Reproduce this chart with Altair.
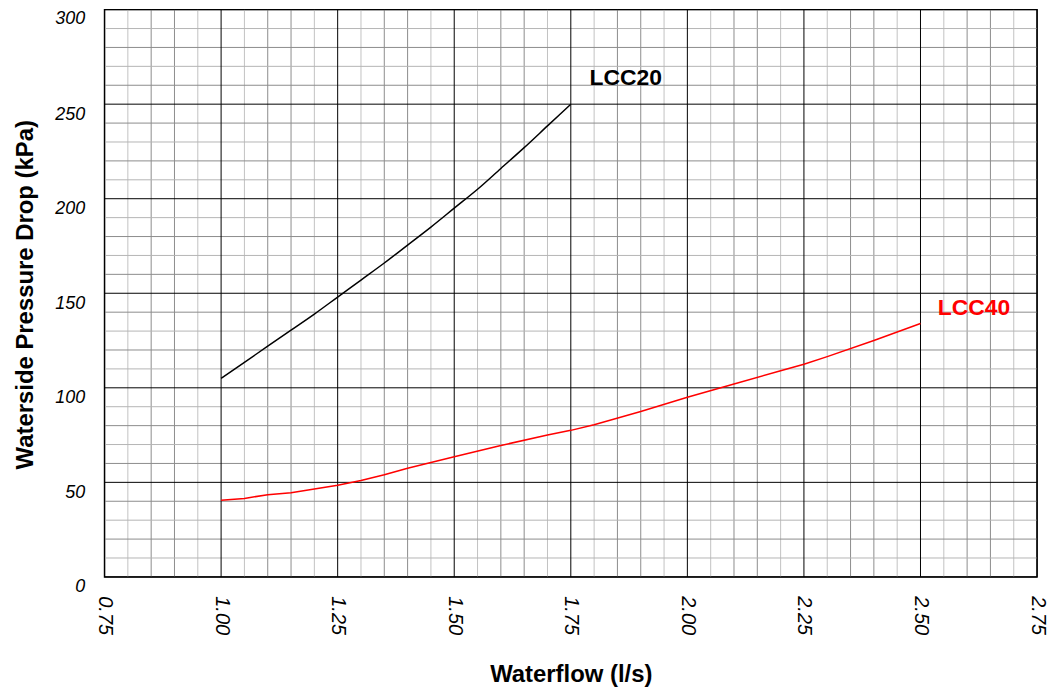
import altair as alt
import pandas as pd

# ---- data ----
flow_lcc20 = [1.00, 1.05, 1.10, 1.15, 1.20, 1.25, 1.30, 1.35, 1.40, 1.45, 1.50, 1.55, 1.60, 1.65, 1.70, 1.75]
dp_lcc20 = [105, 113.5, 122, 130.5, 139, 148, 157, 166, 175.5, 185, 195, 205, 216, 227, 238.5, 250]

flow_lcc40 = [1.00, 1.05, 1.10, 1.15, 1.20, 1.25, 1.30, 1.35, 1.40, 1.45, 1.50, 1.60, 1.70, 1.75,
              1.80, 1.90, 2.00, 2.10, 2.20, 2.25, 2.30, 2.40, 2.50]
dp_lcc40 = [40.5, 41.5, 43.5, 44.5, 46.5, 48.5, 51, 54, 57.5, 60.5, 63.5, 69.5, 75, 77.5,
            80.5, 87.5, 95, 102, 109, 112.5, 116.5, 125, 134]

series_names = ["LCC20", "LCC40"]
series_colors = ["#000000", "#ff0000"]
label_x = [1.79, 2.537]
label_y = [264, 142]

x_ticks = [0.75, 1.00, 1.25, 1.50, 1.75, 2.00, 2.25, 2.50, 2.75]
y_ticks = [0, 50, 100, 150, 200, 250, 300]

X_DOM = [0.75, 2.75]
Y_DOM = [0, 300]

# grid line positions (minor every 0.05 l/s and 10 kPa)
idx_x = [i for i in range(41) if i % 5 != 0]
minor_x_light = [round(0.75 + 0.05 * i, 2) for i in idx_x if i % 5 in (1, 4)]
minor_x_dark = [round(0.75 + 0.05 * i, 2) for i in idx_x if i % 5 in (2, 3)]
minor_y = [10 * i for i in range(31) if i % 5 != 0]
minor_y_light = [v for v in minor_y if (v // 10) % 2 == 1]
minor_y_dark = [v for v in minor_y if (v // 10) % 2 == 0]

FONT = "Liberation Sans"
xs = alt.Scale(domain=X_DOM, nice=False, zero=False)
ys = alt.Scale(domain=Y_DOM, nice=False, zero=False)

x_axis = alt.Axis(
    values=x_ticks, format=".2f", labelAngle=90, labelFontStyle="italic", labelFontSize=20,
    labelFont=FONT, labelColor="black", labelPadding=19, labelFlush=False, labelOverlap=False,
    labelOffset=0, ticks=False, domain=False, grid=False,
    title="Waterflow (l/s)", titleFont=FONT, titleFontSize=24, titleFontWeight="bold",
    titleColor="black", titleY=105, titleBaseline="alphabetic",
)
y_axis = alt.Axis(
    values=y_ticks, labelFontStyle="italic", labelFontSize=18, labelFont=FONT, labelColor="black",
    labelPadding=20, labelFlush=False, labelOverlap=False, labelBaseline="middle",
    labelOffset={"condition": {"test": "datum.value == 300", "value": 9}, "value": 10},
    ticks=False, domain=False, grid=False,
    title="Waterside Pressure Drop (kPa)", titleFont=FONT, titleFontSize=24, titleFontWeight="bold",
    titleColor="black", titleX=-79, titleY=286, titleAngle=270, titleAlign="center",
    titleBaseline="middle",
)


def X(field):
    return alt.X(field, type="quantitative", scale=xs, axis=x_axis)


def Y(field):
    return alt.Y(field, type="quantitative", scale=ys, axis=y_axis)


def vrules(vals, color):
    return alt.Chart(pd.DataFrame({"flow": vals})).mark_rule(color=color, strokeWidth=1).encode(
        x=X("flow"))


def hrules(vals, color):
    return alt.Chart(pd.DataFrame({"dp": vals})).mark_rule(color=color, strokeWidth=1).encode(
        y=Y("dp"))


grid = [
    vrules(minor_x_light, "#c2c2c2"),
    vrules(minor_x_dark, "#8c8c8c"),
    hrules(minor_y_light, "#b4b4b4"),
    hrules(minor_y_dark, "#8c8c8c"),
    vrules(x_ticks, "#000000"),
    hrules(y_ticks, "#000000"),
]

line20 = alt.Chart(pd.DataFrame({"flow": flow_lcc20, "dp": dp_lcc20})).mark_line(
    color=series_colors[0], strokeWidth=1.5, interpolate="monotone").encode(x=X("flow"), y=Y("dp"))
line40 = alt.Chart(pd.DataFrame({"flow": flow_lcc40, "dp": dp_lcc40})).mark_line(
    color=series_colors[1], strokeWidth=1.5).encode(x=X("flow"), y=Y("dp"))

labels_df = pd.DataFrame({"name": series_names, "flow": label_x, "dp": label_y, "c": series_colors})
labels = alt.Chart(labels_df).mark_text(
    align="left", baseline="middle", fontSize=23, fontWeight="bold", font=FONT).encode(
    x=X("flow"),
    y=Y("dp"),
    text="name:N",
    color=alt.Color("c:N", scale=None),
)

chart = alt.layer(*grid, line20, line40, labels).properties(
    width=937, height=570, autosize="none",
    padding={"left": 97, "top": 0, "right": 12, "bottom": 110},
    background="white",
).configure_view(stroke="black", strokeWidth=1.5)

chart.save("out.html", embed_options={"renderer": "svg", "actions": False})
